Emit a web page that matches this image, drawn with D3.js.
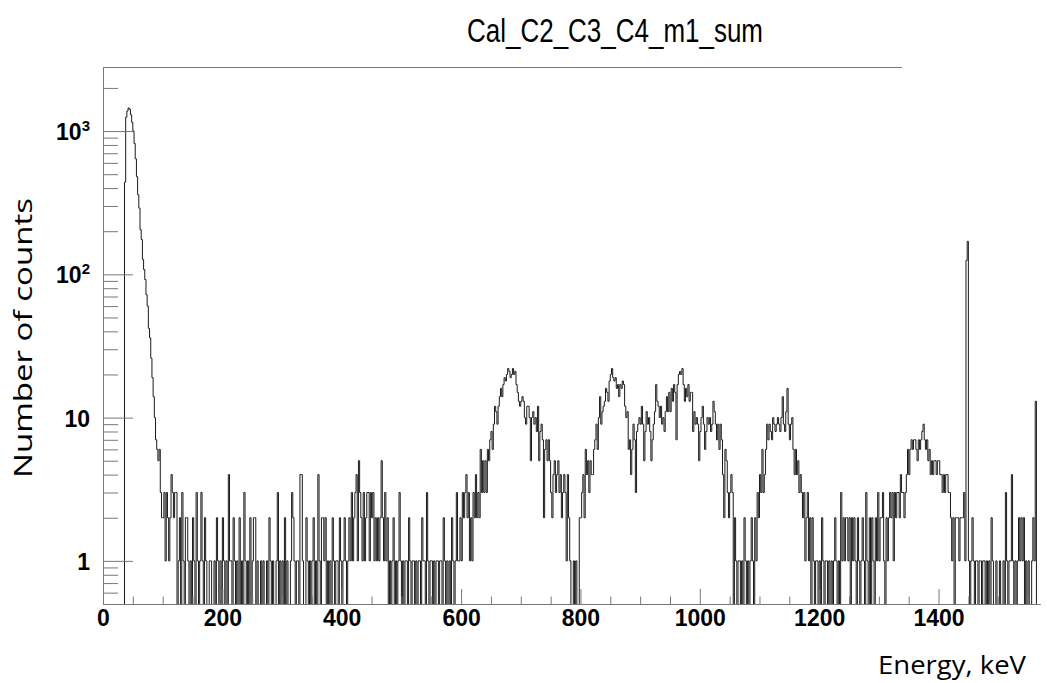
<!DOCTYPE html>
<html><head><meta charset="utf-8">
<script src="https://cdn.jsdelivr.net/npm/d3@7"></script>
<style>
html,body{margin:0;padding:0;background:#fff;}
svg{display:block;}
</style></head>
<body>
<svg id="c" width="1047" height="683"></svg>
<script>
// ---- data (counts per 2 keV bin) ----
const binStartKeV = 0;
const binWidthKeV = 2;
// 0 - 100 keV
const countsPeak = [0,0,0,0,0,0,0,0,0,0, 0,0,0,0,0,0,0,0,440,1250,
  1380,1450,1420,1300,1150,1000,820,640,480,360, 290,205,175,127,108,92,72,60,42,36,
  26,19,14,10,7,6,5,6,3,2];
// 100 - 640 keV
const countsLow = [
  2,3,1,3,2,1,2,4,3,2, 3,3,0,1,2,0,3,1,0,2, 2,1,0,1,0,2,1,0,3,1,
  0,1,3,1,0,2,1,0,0,1, 1,0,0,1,0,2,1,0,1,0, 2,1,0,1,0,4,1,1,0,2,
  1,0,1,0,2,0,1,0,3,1, 0,1,0,2,0,1,2,2,0,1, 0,0,1,0,1,0,0,1,0,2,
  1,0,1,0,0,1,3,0,1,0, 1,0,2,0,1,0,0,1,3,2, 1,0,1,1,0,4,4,1,0,0,
  2,1,0,1,0,1,2,0,1,0, 4,1,0,2,2,1,2,0,1,0, 1,0,2,1,0,1,1,0,2,1,
  0,1,2,1,0,1,2,1,3,1, 2,3,4,1,5,3,2,1,3,1, 2,3,3,1,3,2,3,1,2,1,
  2,1,2,5,2,1,3,1,2,0, 1,0,1,2,0,1,0,1,3,1, 0,1,0,1,1,0,2,1,0,1,
  1,0,1,0,1,1,0,2,1,1, 0,3,1,0,1,1,0,1,0,1, 1,0,1,1,0,2,1,0,1,0,
  1,0,2,1,0,1,3,1,1,2, 1,3,2,3,4,2,3,1,2,1, 3,2,4,2,3,2,6,3,5,3];
// 640 - 1100 keV
const countsMid = [
  5,3,6,5,7,8,6,9,12,11, 9,12,14,16,14,17,19,18,20,22, 21,19,20,22,20,21,17,15,13,12,
  13,14,13,10,9,12,12,10,5,10, 11,9,10,8,12,5,8,9,7,2, 6,7,5,7,5,3,2,4,5,3,
  4,5,3,4,2,3,4,3,1,4, 2,1,0,0,1,0,1,0,0,2, 2,3,4,2,6,4,5,3,5,4,
  4,6,7,9,6,10,14,9,11,12, 13,16,15,13,18,20,22,19,18,19, 16,17,14,17,16,18,17,12,10,11,
  6,7,4,6,9,7,3,8,9,10, 9,12,9,5,8,11,9,10,8,5, 7,9,11,17,13,12,10,12,9,10,
  8,11,14,11,15,11,16,13,17,15, 7,17,20,21,20,22,17,13,16,14, 17,13,15,15,8,11,9,10,9,5,
  8,10,12,9,6,8,10,9,10,8, 9,13,11,9,7,9,6,9,7,4, 2,6,5,3,2,3,4,3,0,2,
  1,0,1,1,0,1,0,2,1,0, 1,0,1,2,1,0,2,1,3,2];
// 1100 - 1570 keV
const countsHigh = [
  4,3,6,3,4,6,9,7,9,8, 7,10,9,8,9,10,9,8,10,14, 9,8,11,16,9,7,9,10,6,4,
  6,4,5,3,4,3,2,3,1,2, 3,1,2,0,2,1,0,1,1,0, 1,0,2,1,0,1,1,0,1,0,
  1,0,1,2,1,0,1,0,3,1, 2,1,2,2,1,2,0,2,1,2, 1,0,2,1,0,1,2,1,0,3,
  1,0,2,0,2,1,0,2,1,3, 1,2,2,3,1,0,2,1,2,3, 2,3,1,3,2,3,3,2,4,3,
  3,2,3,4,6,4,6,7,6,7, 7,6,5,7,6,7,8,9,7,6, 7,5,6,4,5,4,5,5,4,5,
  5,4,4,3,4,3,4,4,3,3, 2,1,2,0,2,2,2,1,2,2, 2,3,1,125,170,1,0,1,2,1,
  0,1,1,0,1,1,0,1,1,0, 1,0,1,0,2,1,0,0,1,0, 0,1,0,0,1,0,3,1,0,1,
  1,4,1,0,1,0,1,2,1,2, 1,2,0,1,0,1,0,0,1,2, 1,13,0,0,0];

const xDomain = [0, 1570];
const yDomain = [0.5, 2800];
const xMajorTicks = [0,200,400,600,800,1000,1200,1400];
const yMajorTicks = [1,10,100,1000];
const yTickLabels = [["1",""],["10",""],["10","2"],["10","3"]];
const titleText = "Cal_C2_C3_C4_m1_sum";
const xTitle = "Energy, keV";
const yTitle = "Number of counts";

// ---- drawing ----
const svg = d3.select("#c");
const L=103, R=1040, T=67, B=604;
const xs = d3.scaleLinear().domain(xDomain).range([L,R]);
const ys = d3.scaleLog().domain(yDomain).range([B,T]);

const counts = countsPeak.concat(countsLow, countsMid, countsHigh);
const pts = counts.map((v,i)=>({e: binStartKeV + i*binWidthKeV, v}));
pts.push({e: binStartKeV + counts.length*binWidthKeV, v: counts[counts.length-1]});

svg.append("clipPath").attr("id","clip").append("rect")
  .attr("x",L).attr("y",T).attr("width",R-L).attr("height",B-T);

const line = d3.line()
  .x(d=>xs(d.e))
  .y(d=> d.v>0 ? ys(d.v) : B+2)
  .curve(d3.curveStepAfter);

svg.append("path").datum(pts)
  .attr("d",line).attr("fill","none").attr("stroke","#1a1a1a")
  .attr("stroke-width",1).attr("clip-path","url(#clip)");

// frame lines
const axisCol = "#777";
svg.append("line").attr("x1",L).attr("x2",902).attr("y1",T+0.5).attr("y2",T+0.5).attr("stroke",axisCol);

// x axis
const minorX = d3.range(0,1571,50).filter(v=>v%200!==0 && v<=xDomain[1]);
const gx = svg.append("g").attr("transform",`translate(0,${B})`);
gx.call(d3.axisBottom(xs).tickValues(xMajorTicks).tickSize(-15).tickSizeOuter(0).tickPadding(6).tickFormat(d3.format("d")));
gx.append("g").call(d3.axisBottom(xs).tickValues(minorX).tickSize(-7.5).tickSizeOuter(0).tickFormat(""));
gx.selectAll("path.domain").attr("stroke",axisCol);
gx.selectAll("line").attr("stroke",axisCol);
gx.selectAll("text").attr("font-family","Liberation Sans, Arial, sans-serif").attr("font-weight","bold").attr("font-size",23).attr("fill","#000");

// y axis
const minorY = [];
[0.1,1,10,100,1000].forEach(dec=>{ for(let k=2;k<=9;k++){ const v=dec*k; if(v>=yDomain[0]&&v<=yDomain[1]) minorY.push(v);} });
const gy = svg.append("g").attr("transform",`translate(${L},0)`);
gy.call(d3.axisLeft(ys).tickValues(yMajorTicks).tickSize(-30).tickSizeOuter(0).tickFormat(""));
gy.append("g").call(d3.axisLeft(ys).tickValues(minorY).tickSize(-15).tickSizeOuter(0).tickFormat(""));
gy.selectAll("path.domain").attr("stroke",axisCol);
gy.selectAll("line").attr("stroke",axisCol);

yMajorTicks.forEach((v,i)=>{
  const t = svg.append("text").attr("x",90).attr("y",ys(v)+9)
    .attr("text-anchor","end")
    .attr("font-family","Liberation Sans, Arial, sans-serif").attr("font-weight","bold").attr("font-size",23);
  t.append("tspan").text(yTickLabels[i][0]);
  if(yTickLabels[i][1]) t.append("tspan").attr("dy",-9).attr("font-size",15).text(yTickLabels[i][1]);
});

// titles
svg.append("text").attr("x",615).attr("y",42).attr("text-anchor","middle")
  .attr("font-family","Liberation Sans, Arial, sans-serif").attr("font-size",33)
  .attr("textLength",296).attr("lengthAdjust","spacingAndGlyphs").text(titleText);

svg.append("text").attr("x",1026).attr("y",674).attr("text-anchor","end")
  .attr("font-family","Open Sans, sans-serif").attr("font-size",26)
  .attr("textLength",148).attr("lengthAdjust","spacingAndGlyphs").text(xTitle);

svg.append("text").attr("transform","translate(32,338) rotate(-90)").attr("text-anchor","middle")
  .attr("font-family","Open Sans, sans-serif").attr("font-size",25)
  .attr("textLength",280).attr("lengthAdjust","spacingAndGlyphs").text(yTitle);
</script>
</body></html>
